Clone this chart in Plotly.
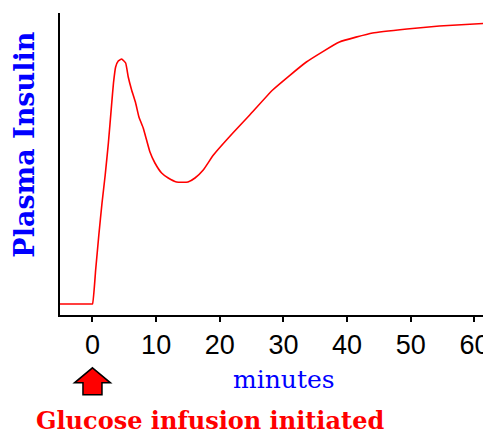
import plotly.graph_objects as go

# plasma insulin response after glucose infusion (arbitrary units)
minutes = [-5.1, -0.3, 0.0, 0.5, 1.0, 1.5, 2.0, 2.5, 3.0, 3.3, 3.64, 4.05,
           4.58, 5.21, 5.62, 6.15, 6.78, 7.3, 7.97, 8.5, 9.03, 9.81, 10.86, 11.9,
           13.2, 15.0, 16.1, 17.4, 19.0, 22.05, 24.7, 28.3, 33.6, 38.8, 44.0,
           49.4, 54.5, 62.6]
insulin = [11, 11, 11, 45, 80, 112, 140, 172, 210, 232, 248, 254,
           256, 252, 238, 225, 212, 198, 187, 175, 163, 152, 142, 137,
           133, 133, 137, 145, 160, 182, 200, 225, 253, 273, 282,
           286, 289, 292]
tick_vals = [0, 10, 20, 30, 40, 50, 60]

fig = go.Figure()

fig.add_trace(go.Scatter(x=minutes, y=insulin, mode='lines',
                         line=dict(color='#ff0000', width=1.6, shape='spline', smoothing=0.4),
                         hoverinfo='skip'))

# red up arrow under x = 0
fig.add_shape(type='path', xref='x', yref='paper', xsizemode='pixel', ysizemode='pixel',
              xanchor=0, yanchor=-0.175,
              path='M 0 0 L 18 -15 L 9.5 -15 L 9.5 -27 L -9.5 -27 L -9.5 -15 L -18 -15 Z',
              fillcolor='#ff0000', line=dict(color='black', width=1.5))

fig.add_annotation(text='Plasma Insulin', xref='paper', yref='paper', x=-0.082, y=0.563,
                   xanchor='center', yanchor='middle', textangle=-90, showarrow=False,
                   font=dict(family='DejaVu Serif', size=27, color='#0000ff', weight='bold'))
fig.add_annotation(text='minutes', xref='paper', yref='paper', x=0.52, y=-0.212,
                   xanchor='center', yanchor='middle', showarrow=False,
                   font=dict(family='DejaVu Serif', size=25, color='#0000ff'))
fig.add_annotation(text='Glucose infusion initiated', xref='paper', yref='paper',
                   x=0.348, y=-0.348, xanchor='center', yanchor='middle', showarrow=False,
                   font=dict(family='DejaVu Serif', size=24, color='#ff0000', weight='bold'))

# the page adds an 8px body margin, so the figure is 8px smaller than the window
fig.update_layout(
    width=483, height=427,
    margin=dict(l=52, r=0, t=5, b=120),
    plot_bgcolor='white', paper_bgcolor='white',
    showlegend=False,
    xaxis=dict(range=[-5.1, 62.6], tickvals=tick_vals, showgrid=False, zeroline=False,
               automargin=False,
               showline=True, linecolor='black', linewidth=2,
               ticks='outside', ticklen=5, tickwidth=2, tickcolor='black',
               tickfont=dict(family='Liberation Sans', size=27, color='black')),
    yaxis=dict(range=[0, 302], showgrid=False, zeroline=False, showticklabels=False,
               automargin=False,
               showline=True, linecolor='black', linewidth=2, ticks=''),
)

fig.write_html("out.html")
